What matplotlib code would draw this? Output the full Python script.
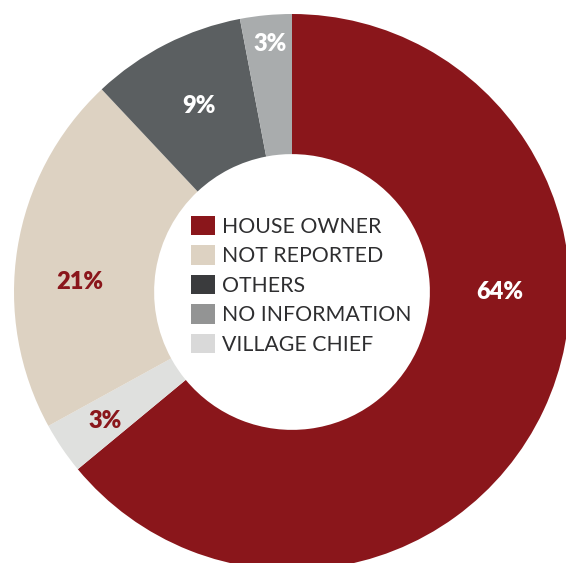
import matplotlib.pyplot as plt
from matplotlib.patches import Patch

# share of respondents by who issued the document
labels = ['HOUSE OWNER', 'VILLAGE CHIEF', 'NOT REPORTED', 'OTHERS', 'NO INFORMATION']
shares = [64, 3, 21, 9, 3]
wedge_colors = ['#8a161b', '#dfe0de', '#ddd2c2', '#5b5f61', '#a9acad']
text_colors = ['white', '#8a161b', '#8a161b', 'white', 'white']

# legend order and swatch colours
legend_labels = ['HOUSE OWNER', 'NOT REPORTED', 'OTHERS', 'NO INFORMATION', 'VILLAGE CHIEF']
legend_colors = ['#8a161b', '#ddd2c2', '#3a3b3d', '#939494', '#d9d9d9']

W, H = 566, 563
fig = plt.figure(figsize=(W / 100, H / 100), dpi=100)
ax = fig.add_axes([0, 0, 1, 1])

cx, cy, r = 292, H - 292, 278
wedges, texts = ax.pie(shares, colors=wedge_colors, startangle=90, counterclock=False,
                       center=(cx, cy), radius=r, frame=True,
                       wedgeprops=dict(width=r * 0.504, linewidth=0))
ax.set_xlim(0, W)
ax.set_ylim(0, H)
ax.set_aspect('equal')
ax.axis('off')

# label positions (pixel coords, y from top)
label_pos = [(500, 292), (105, 421), (80, 282), (199, 106), (270, 44)]
for s, (x, y), c in zip(shares, label_pos, text_colors):
    ax.text(x, H - y, f'{s}%', color=c, fontsize=17, fontweight='heavy',
            family='Lato', ha='center', va='center')

handles = [Patch(facecolor=c, edgecolor='none') for c in legend_colors]
leg = ax.legend(handles, legend_labels, loc='upper left',
                bbox_to_anchor=(191 / W, 1 - 216 / H), frameon=False,
                prop=dict(family='Lato', size=15.3), labelcolor='#2e2e30',
                handlelength=1.13, handleheight=1.03, handletextpad=0.33,
                labelspacing=0.4, borderpad=0, borderaxespad=0)

fig.savefig('out.png', dpi=100)
